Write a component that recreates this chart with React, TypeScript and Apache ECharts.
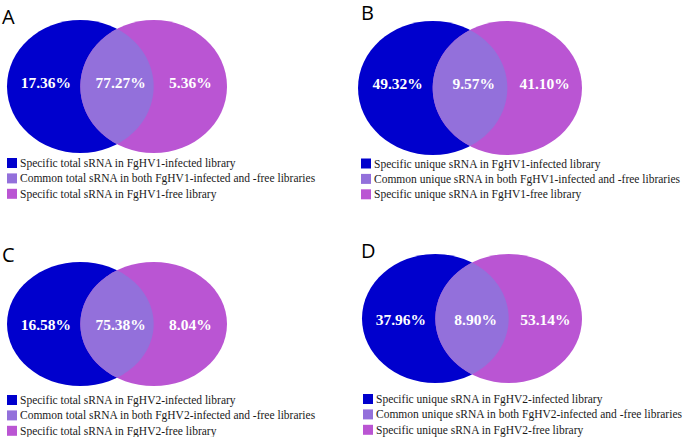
import React, { useEffect, useRef } from "react";
import * as echarts from "echarts";

// ---- data ----
const panelLetters = ["A", "B", "C", "D"];
const infectedOnlyPct = [17.36, 49.32, 16.58, 37.96];
const commonPct = [77.27, 9.57, 75.38, 8.9];
const freeOnlyPct = [5.36, 41.1, 8.04, 53.14];
const infectedLegend = [
  "Specific total sRNA in FgHV1-infected library",
  "Specific unique sRNA in FgHV1-infected library",
  "Specific total sRNA in FgHV2-infected library",
  "Specific unique sRNA in FgHV2-infected library",
];
const commonLegend = [
  "Common total sRNA in both FgHV1-infected and -free libraries",
  "Common unique sRNA in both FgHV1-infected and -free libraries",
  "Common total sRNA in both FgHV2-infected and -free libraries",
  "Common unique sRNA in both FgHV2-infected and -free libraries",
];
const freeLegend = [
  "Specific total sRNA in FgHV1-free library",
  "Specific unique sRNA in FgHV1-free library",
  "Specific total sRNA in FgHV2-free library",
  "Specific unique sRNA in FgHV2-free library",
];

// ---- layout & style ----
const BLUE = "#0000CD";
const PURPLE = "#BA55D3";
const COMMON = "#9370DB";
const LAYOUT = [
  { left: 7, top: 20, width: 220, height: 133, dy: 0.06, legLeft: 7, legTop: 157, tLeft: 2, tTop: 6 },
  { left: 358, top: 21, width: 224, height: 134, dy: 0.06, legLeft: 361, legTop: 157.5, tLeft: 361, tTop: 2 },
  { left: 7, top: 262, width: 220, height: 124, dy: -0.01, legLeft: 7, legTop: 394, tLeft: 2, tTop: 244 },
  { left: 362, top: 254, width: 220, height: 129, dy: -0.02, legLeft: 363, legTop: 393, tLeft: 361, tTop: 240 },
];
const LABEL_X = [0.53, 1.55, 2.5];
const fmt = (v: number) => v.toFixed(2) + "%";

function ellipseRender(params: any, api: any) {
  const c = api.coord([api.value(0), api.value(1)]);
  const s = api.size([1, 1]);
  return {
    type: "ellipse",
    shape: { cx: c[0], cy: c[1], rx: s[0], ry: s[1] },
    style: { fill: api.visual("color") },
  };
}

function lensRender(params: any, api: any) {
  const pts: number[][] = [];
  const n = 60;
  const a = Math.PI / 3;
  for (let k = 0; k <= n; k++) {
    const t = -a + (2 * a * k) / n;
    pts.push(api.coord([1 + Math.cos(t), -Math.sin(t)]));
  }
  for (let k = 0; k <= n; k++) {
    const t = Math.PI - a + (2 * a * k) / n;
    pts.push(api.coord([2 + Math.cos(t), -Math.sin(t)]));
  }
  return {
    type: "polygon",
    shape: { points: pts },
    style: { fill: api.visual("color") },
  };
}

function labelRender(params: any, api: any) {
  const c = api.coord([api.value(0), api.value(1)]);
  return {
    type: "text",
    x: c[0],
    y: c[1],
    style: {
      text: fmt(api.value(2)),
      fill: "#fff",
      font: "bold 15.5px 'Liberation Serif'",
      align: "center",
      verticalAlign: "middle",
    },
  };
}

export default function App() {
  const ref = useRef<HTMLDivElement>(null);
  useEffect(() => {
    if (!ref.current) return;
    const chart = echarts.init(ref.current, undefined, { renderer: "svg" });
    const grid: any[] = [];
    const xAxis: any[] = [];
    const yAxis: any[] = [];
    const series: any[] = [];
    const legend: any[] = [];
    const title: any[] = [];
    LAYOUT.forEach((L, i) => {
      grid.push({ left: L.left, top: L.top, width: L.width, height: L.height });
      xAxis.push({ type: "value", gridIndex: i, min: 0, max: 3, show: false });
      yAxis.push({ type: "value", gridIndex: i, min: -1, max: 1, show: false });
      series.push({
        type: "custom", name: infectedLegend[i], xAxisIndex: i, yAxisIndex: i, z: 1,
        itemStyle: { color: BLUE }, renderItem: ellipseRender, data: [[1, 0]], silent: true,
      });
      series.push({
        type: "custom", name: freeLegend[i], xAxisIndex: i, yAxisIndex: i, z: 2,
        itemStyle: { color: PURPLE }, renderItem: ellipseRender, data: [[2, 0]], silent: true,
      });
      series.push({
        type: "custom", name: commonLegend[i], xAxisIndex: i, yAxisIndex: i, z: 3,
        itemStyle: { color: COMMON }, renderItem: lensRender, data: [[1.5, 0]], silent: true,
      });
      series.push({
        type: "custom", name: "labels" + i, xAxisIndex: i, yAxisIndex: i, z: 4,
        renderItem: labelRender, silent: true,
        data: [
          [LABEL_X[0], L.dy, infectedOnlyPct[i]],
          [LABEL_X[1], L.dy, commonPct[i]],
          [LABEL_X[2], L.dy, freeOnlyPct[i]],
        ],
      });
      legend.push({
        data: [infectedLegend[i], commonLegend[i], freeLegend[i]],
        orient: "vertical", left: L.legLeft, top: L.legTop, padding: 0,
        itemWidth: 10, itemHeight: 10, itemGap: 3.4, icon: "rect", selectedMode: false,
        textStyle: { fontFamily: "Liberation Serif", fontSize: 11.5, color: "#1a1a1a", padding: [0, 0, 0, -2] },
      });
      title.push({
        text: panelLetters[i], left: L.tLeft, top: L.tTop, padding: 0,
        textStyle: { fontFamily: "'Open Sans'", fontSize: 20, fontWeight: "normal", color: "#000" },
      });
    });
    chart.setOption({
      animation: false,
      backgroundColor: "#fff",
      title, grid, xAxis, yAxis, series, legend,
    });
    return () => chart.dispose();
  }, []);
  return <div ref={ref} style={{ position: "absolute", left: 0, top: 0, width: 685, height: 437 }} />;
}
